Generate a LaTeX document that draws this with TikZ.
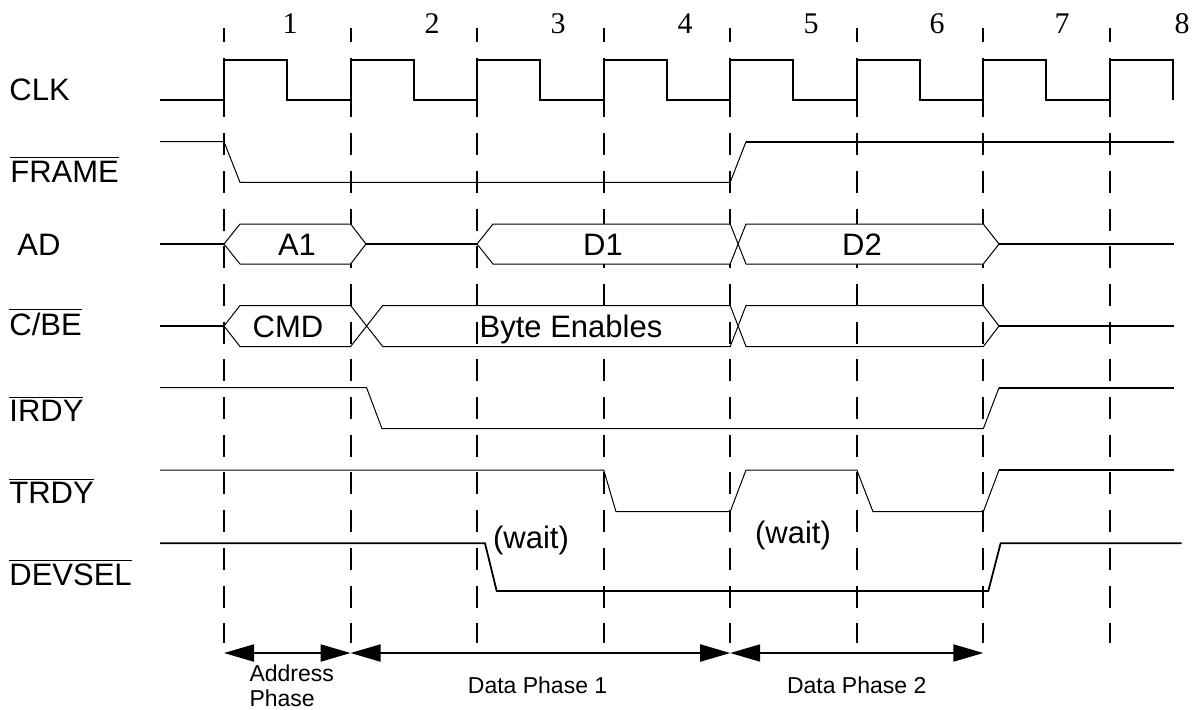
\documentclass[tikz,border=0pt]{standalone}
\usepackage{fontspec}
\setmainfont{Liberation Sans}
\newfontfamily\numfont{Liberation Serif}
\usetikzlibrary{arrows.meta}
\newcommand\negsig[1]{$\overline{\mbox{#1}}$}

\begin{document}
\begin{tikzpicture}[x=0.5pt,y=-0.5pt,>={Triangle[length=15pt,width=8.5pt]},
  wire/.style={line width=0.5pt},
  wireb/.style={line width=1pt},
  cyc/.style={line width=1pt,dash pattern=on 11pt off 7.85pt,dash phase=4pt},
  sig/.style={anchor=base west,inner sep=0pt,font=\fontsize{15.5}{18}\selectfont},
  val/.style={anchor=base,inner sep=0pt,font=\fontsize{15.5}{18}\selectfont},
  num/.style={inner sep=0pt,font=\numfont\fontsize{15}{18}\selectfont},
  phase/.style={inner sep=0pt,font=\fontsize{11.5}{12.5}\selectfont,align=left}]
  \useasboundingbox (0,0) rectangle (1193,709);

  \foreach \n/\x in {1/290,2/432,3/558,4/685,5/811,6/937,7/1062,8/1182}
    \node[num] (n\n) at (\x,24) {\n};

  \foreach \k in {0,...,7}
    \draw[cyc] ({224+126.55*\k},28) -- ({224+126.55*\k},643);

  % signal names
  \node[sig] (clk) at (9,100) {CLK};
  \node[sig] (frame) at (10,182) {\negsig{FRAME}};
  \node[sig] (ad) at (17,255) {AD};
  \node[sig] (cbe) at (9,335) {\negsig{C/BE}};
  \node[sig] (irdy) at (9,421.7) {\negsig{IRDY}};
  \node[sig] (trdy) at (9,503.3) {\negsig{TRDY}};
  \node[sig] (devsel) at (9,585) {\negsig{DEVSEL}};

  % clock
  \draw[wireb] (160,100) foreach \k in {0,...,6} {
      -- ({224+126.55*\k},100) -- ({224+126.55*\k},60)
      -- ({287+126.55*\k},60) -- ({287+126.55*\k},100)}
    -- (1110,100) -- (1110,60) -- (1173,60) -- (1173,100);

  % FRAME
  \draw[wire] (160,141.7) -- (224,141.7) -- (240,182.3) -- (730.2,182.3) -- (746,141.7);
  \draw[wireb] (746,141.7) -- (1174,141.7);

  % AD
  \draw[wireb] (160,244) -- (224,244) (366,244) -- (477,244) (999,244) -- (1174,244);
  \draw[wire,fill=white] (224,244) -- (240,224) -- (350.6,224) -- (366,244) -- (350.6,264)
    -- (240,264) -- cycle;
  \draw[wire,fill=white] (477,244) -- (493,224) -- (730.2,224) -- (746,264) -- (983.3,264)
    -- (999,244) -- (983.3,224) -- (746,224) -- (730.2,264) -- (493,264) -- cycle;
  \node[val] (a1) at (297,255) {A1};
  \node[val] (d1) at (603,255) {D1};
  \node[val] (d2) at (862,255) {D2};

  % C/BE
  \draw[wireb] (160,326) -- (224,326) (999,326) -- (1174,326);
  \draw[wire] (224,326) -- (240,305.5) -- (350.6,305.5) -- (382.7,346.5) -- (730.2,346.5)
    -- (746,305.5) -- (983.3,305.5) -- (999,326) -- (983.3,346.5) -- (746,346.5)
    -- (730.2,305.5) -- (382.7,305.5) -- (350.6,346.5) -- (240,346.5) -- cycle;
  \node[val] (cmd) at (288,337.7) {CMD};
  \node[val,fill=white] (be) at (571,337.7) {Byte Enables};

  % IRDY
  \draw[wire] (160,387.7) -- (366.6,387.7) -- (382,428.7) -- (983.3,428.7) -- (999,387.7);
  \draw[wireb] (999,387.7) -- (1174,387.7);

  % TRDY
  \draw[wire] (160,470) -- (603.7,470) -- (616,511.7) -- (730.2,511.7) -- (746,470)
    -- (856.8,470) -- (873,511.7) -- (983.3,511.7) -- (999,470);
  \draw[wireb] (999,470) -- (1174,470);

  % DEVSEL
  \draw[line width=0.9pt] (160,543.3) -- (485,543.3) -- (496.7,591) -- (988.3,591)
    -- (1000.6,543.3) -- (1181.6,543.3);

  \node[val,anchor=center] (w1) at (531,540) {(wait)};
  \node[val,anchor=center] (w2) at (793,535) {(wait)};

  % phases
  \foreach \k in {1,...,8}
    \coordinate (e\k) at ({224+126.55*(\k-1)},653);
  \draw[wireb,<->] (e1) -- (e2);
  \draw[wireb,<->] (e2) -- (e5);
  \draw[wireb,<->] (e5) -- (e7);
  \node[phase] (addr) at (291.7,686) {Address\\Phase};
  \node[phase] (dp1) at (537.6,685) {Data Phase 1};
  \node[phase] (dp2) at (856.7,685) {Data Phase 2};
\end{tikzpicture}
\end{document}
